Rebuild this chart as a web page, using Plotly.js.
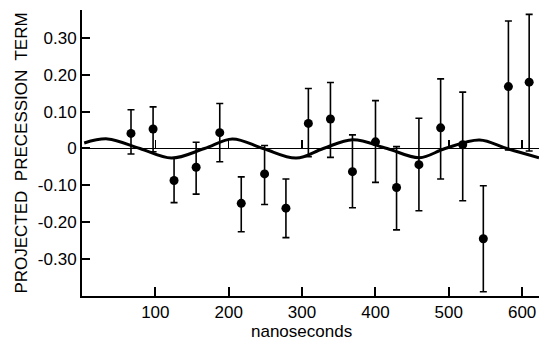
<!DOCTYPE html>
<html>
<head>
<meta charset="utf-8">
<script src="https://cdn.plot.ly/plotly-3.0.1.min.js"></script>
<style>html,body{margin:0;padding:0;background:#fff;}#chart{width:539px;height:341px;}</style>
</head>
<body>
<div id="chart"></div>
<script>
// Measured data points (time in ns, projected precession term)
const timeNs = [66.8, 96.9, 125.5, 155.6, 187.8, 217.1, 248.9, 278.0, 308.6, 338.7, 368.7, 400.1, 428.8, 459.3, 488.9, 519.0, 547.1, 581.3, 609.6];
const termValue = [0.041, 0.053, -0.087, -0.051, 0.043, -0.149, -0.069, -0.162, 0.068, 0.080, -0.063, 0.018, -0.106, -0.044, 0.056, 0.010, -0.245, 0.168, 0.180];
const errUp = [0.064, 0.060, 0.061, 0.068, 0.079, 0.072, 0.077, 0.079, 0.095, 0.099, 0.100, 0.112, 0.111, 0.126, 0.133, 0.143, 0.144, 0.178, 0.184];
const errDown = [0.056, 0.062, 0.060, 0.073, 0.079, 0.077, 0.083, 0.080, 0.090, 0.104, 0.098, 0.110, 0.115, 0.125, 0.139, 0.152, 0.144, 0.172, 0.187];

// Fitted curve (peaks, troughs, zero crossings)
const curveX = [3, 35, 79, 122, 167, 205, 247, 292, 329, 369, 416, 460, 495, 542, 579, 623];
const curveY = [0.015, 0.026, 0, -0.026, 0, 0.026, 0, -0.026, 0, 0.024, 0, -0.025, 0, 0.023, 0, -0.025];

// Axis ticks
const xTicks = [100, 200, 300, 400, 500, 600];
const xTickText = ['100', '200', '300', '400', '500', '600'];
const yTicks = [0.30, 0.20, 0.10, 0, -0.10, -0.20, -0.30];
const yTickText = ['0.30', '0.20', '0.10', '0', '-0.10', '-0.20', '-0.30'];

const xRange = [0, 623];
const yRange = [-0.4005, 0.376];
const zeroPos = (0 - yRange[0]) / (yRange[1] - yRange[0]);

const FONT = 'Liberation Sans, Arial, sans-serif';

const traces = [
  {
    x: curveX, y: curveY, type: 'scatter', mode: 'lines',
    line: {color: '#000', width: 3, shape: 'spline', smoothing: 1},
    xaxis: 'x2', yaxis: 'y', hoverinfo: 'skip', showlegend: false
  },
  {
    x: timeNs, y: termValue, type: 'scatter', mode: 'markers',
    marker: {color: '#000', size: 9},
    error_y: {type: 'data', symmetric: false, array: errUp, arrayminus: errDown,
              color: '#000', thickness: 1.6, width: 3.5},
    showlegend: false
  }
];

const layout = {
  width: 539, height: 341,
  margin: {l: 82, r: 0, t: 10, b: 45, pad: 0},
  paper_bgcolor: '#fff', plot_bgcolor: '#fff',
  font: {family: FONT, color: '#000', size: 17},
  showlegend: false,
  xaxis: {
    range: xRange, tickvals: xTicks, ticktext: xTickText,
    ticks: 'inside', ticklen: 9, tickwidth: 2, tickcolor: '#000',
    showline: true, linewidth: 2, linecolor: '#000',
    showgrid: false, zeroline: false,
    tickfont: {family: FONT, size: 17, color: '#000'},
    ticklabelstandoff: 0
  },
  xaxis2: {
    range: xRange, overlaying: 'x', anchor: 'free', position: zeroPos, side: 'bottom',
    tickvals: xTicks, ticks: 'inside', ticklen: 8, tickwidth: 1.5, tickcolor: '#000',
    showticklabels: false, showline: false, showgrid: false, zeroline: false
  },
  yaxis: {
    range: yRange, tickvals: yTicks, ticktext: yTickText,
    ticks: 'inside', ticklen: 8, tickwidth: 2, tickcolor: '#000',
    showline: true, linewidth: 2, linecolor: '#000',
    showgrid: false, zeroline: true, zerolinewidth: 1.5, zerolinecolor: '#000',
    tickfont: {family: FONT, size: 17, color: '#000'},
    title: {text: 'PROJECTED  PRECESSION  TERM', font: {family: FONT, size: 17, color: '#000'}, standoff: 6}
  },
  annotations: [
    {text: 'nanoseconds', xref: 'paper', yref: 'paper', x: 0.481, y: -0.1224,
     xanchor: 'center', yanchor: 'middle', showarrow: false,
     font: {family: FONT, size: 17, color: '#000'}}
  ]
};

Plotly.newPlot('chart', traces, layout, {staticPlot: true, displayModeBar: false});
</script>
</body>
</html>
